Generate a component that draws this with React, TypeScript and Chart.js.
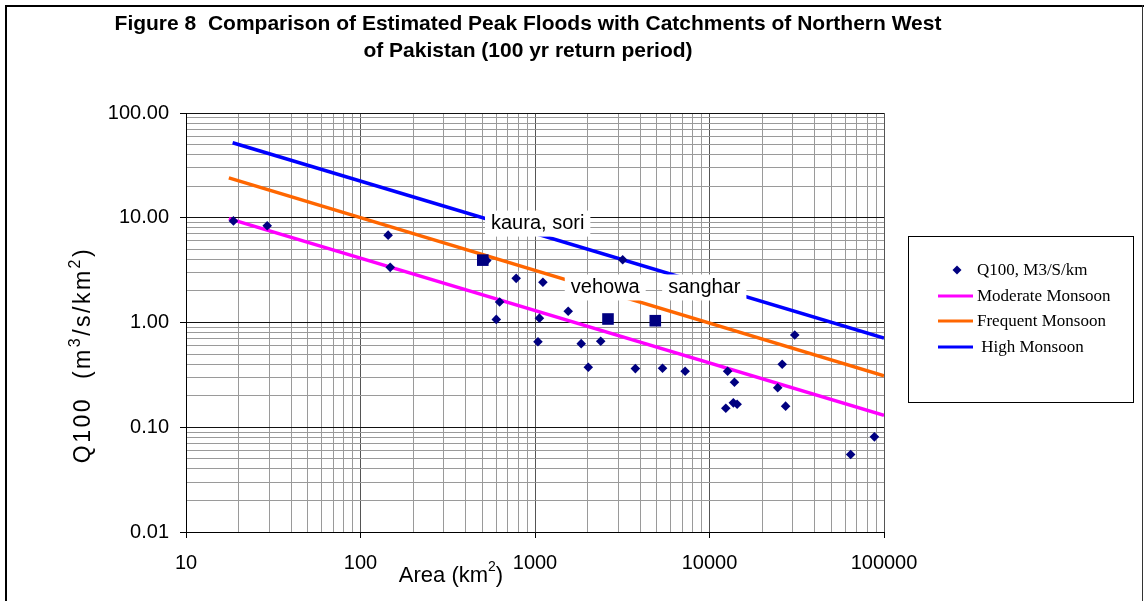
import React, { useEffect, useRef } from 'react';
import { Chart, registerables } from 'chart.js';

Chart.register(...registerables);

const TITLE_LINES = [
  'Figure 8  Comparison of Estimated Peak Floods with Catchments of Northern West',
  'of Pakistan (100 yr return period)',
];

// observed catchments: area (km2) and Q100 (m3/s/km2)
const AREA = [18.7, 29.2, 144, 148, 529, 780, 627, 600, 3180, 1110, 1550, 1060, 1040, 1840, 2380, 2020, 3760, 5380, 7250, 12700, 13900, 12400, 13700, 14400, 24600, 26100, 30800, 27300, 64400, 88100];
const Q100 = [9.33, 8.38, 6.82, 3.36, 3.9, 2.64, 1.57, 1.07, 3.97, 2.42, 1.28, 1.1, 0.656, 0.628, 0.662, 0.374, 0.363, 0.366, 0.343, 0.343, 0.269, 0.152, 0.171, 0.166, 0.238, 0.4, 0.76, 0.159, 0.055, 0.081];

// highlighted (named) catchments
const NAMED_AREA = [502, 2620, 4890];
const NAMED_Q = [3.94, 1.08, 1.04];
const NAMED_LABELS = ['kaura, sori', 'vehowa', 'sanghar'];
const LABEL_AREA = [1036, 2526, 9333];
const LABEL_Q = [8.79, 2.16, 2.16];

// envelope lines
const LINE_AREA = [17.6, 100000];
const MODERATE = [9.8, 0.13];
const FREQUENT = [24, 0.31];
const HIGH_AREA = [18.5, 100000];
const HIGH = [52, 0.71];

// axes
const X_MAJOR = [10, 100, 1000, 10000, 100000];
const X_LABELS = ['10', '100', '1000', '10000', '100000'];
const Y_MAJOR = [0.01, 0.1, 1, 10, 100];
const Y_LABELS = ['0.01', '0.10', '1.00', '10.00', '100.00'];
const MINOR_STEPS = [2, 3, 4, 5, 6, 7, 8, 9];

const SANS = '"Liberation Sans", Arial, sans-serif';
const SERIF = '"Liberation Serif", "Times New Roman", serif';
const NAVY = '#000080';

function buildTicks(majors: number[]) {
  const out: { value: number }[] = [];
  majors.forEach((m, i) => {
    out.push({ value: m });
    if (i < majors.length - 1) MINOR_STEPS.forEach((s) => out.push({ value: m * s }));
  });
  return out;
}

function majorIndex(v: number, majors: number[]) {
  return majors.findIndex((m) => Math.abs(v / m - 1) < 1e-9);
}

type Seg = [string, boolean];

function drawRich(ctx: CanvasRenderingContext2D, segs: Seg[], cx: number, cy: number, size: number, spacing = 0, supScale = 0.62) {
  const supSize = Math.round(size * supScale);
  (ctx as any).letterSpacing = `${spacing}px`;
  let total = 0;
  const widths = segs.map(([t, sup]) => {
    ctx.font = `${sup ? supSize : size}px ${SANS}`;
    const w = ctx.measureText(t).width;
    total += w;
    return w;
  });
  let x = cx - total / 2;
  ctx.textAlign = 'left';
  ctx.textBaseline = 'middle';
  segs.forEach(([t, sup], i) => {
    ctx.font = `${sup ? supSize : size}px ${SANS}`;
    ctx.fillText(t, x, sup ? cy - size * 0.38 : cy);
    x += widths[i];
  });
  (ctx as any).letterSpacing = '0px';
}

const decorPlugin = {
  id: 'decor',
  afterDatasetsDraw(chart: any) {
    const ctx: CanvasRenderingContext2D = chart.ctx;
    const xs = chart.scales.x;
    const ys = chart.scales.y;
    ctx.save();
    ctx.font = `20px ${SANS}`;
    ctx.textAlign = 'center';
    ctx.textBaseline = 'middle';
    NAMED_LABELS.forEach((t, i) => {
      const px = xs.getPixelForValue(LABEL_AREA[i]);
      const py = ys.getPixelForValue(LABEL_Q[i]);
      const w = ctx.measureText(t).width + 12;
      ctx.fillStyle = '#fff';
      ctx.fillRect(px - w / 2, py - 13, w, 26);
      ctx.fillStyle = '#000';
      ctx.fillText(t, px, py);
    });
    ctx.restore();
  },
  afterDraw(chart: any) {
    const ctx: CanvasRenderingContext2D = chart.ctx;
    ctx.save();
    // outer frame
    ctx.fillStyle = '#000';
    ctx.fillRect(5, 5, 2, 600);
    ctx.fillRect(5, 5, 1139, 2);
    ctx.fillStyle = '#333';
    ctx.fillRect(1142, 5, 1, 600);

    // title
    ctx.fillStyle = '#000';
    ctx.font = `bold 21px ${SANS}`;
    ctx.textAlign = 'center';
    ctx.textBaseline = 'middle';
    ctx.fillText(TITLE_LINES[0], 528, 24);
    ctx.fillText(TITLE_LINES[1], 528, 51);

    // axis titles
    drawRich(ctx, [['Area (km', false], ['2', true], [')', false]], 451, 576, 22);
    ctx.save();
    ctx.translate(84, 355);
    ctx.rotate(-Math.PI / 2);
    drawRich(ctx, [['Q100  (m', false], ['3', true], ['/s/km', false], ['2', true], [')', false]], 0, 0, 23, 2.5, 0.7);
    ctx.restore();

    // legend
    const lx = 908.5, ly = 236.5, lw = 225, lh = 166;
    ctx.fillStyle = '#fff';
    ctx.fillRect(lx, ly, lw, lh);
    ctx.strokeStyle = '#000';
    ctx.lineWidth = 1;
    ctx.strokeRect(lx, ly, lw, lh);
    const rows = [270, 296, 321, 347];
    let r = 0;
    chart.data.datasets.forEach((ds: any) => {
      if (ds.hideInLegend) return;
      const y = rows[r++];
      if (ds.showLine) {
        ctx.strokeStyle = ds.borderColor;
        ctx.lineWidth = 3;
        ctx.beginPath();
        ctx.moveTo(938, y);
        ctx.lineTo(973, y);
        ctx.stroke();
      } else {
        ctx.fillStyle = ds.backgroundColor;
        ctx.beginPath();
        ctx.moveTo(957, y - 4.5);
        ctx.lineTo(961.5, y);
        ctx.lineTo(957, y + 4.5);
        ctx.lineTo(952.5, y);
        ctx.closePath();
        ctx.fill();
      }
      ctx.fillStyle = '#000';
      ctx.font = `17px ${SERIF}`;
      ctx.textAlign = 'left';
      ctx.textBaseline = 'middle';
      ctx.fillText(ds.label, 977, y + 1);
    });
    ctx.restore();
  },
};

const toPts = (xs: number[], ys: number[]) => xs.map((x, i) => ({ x, y: ys[i] }));

export default function App() {
  const ref = useRef<HTMLCanvasElement | null>(null);

  useEffect(() => {
    document.body.style.margin = '0';
    document.body.style.overflow = 'hidden';
    const canvas = ref.current!;
    const gridColor = (majors: number[], majorColor: string) => (c: any) =>
      c.tick && majorIndex(c.tick.value, majors) >= 0 ? majorColor : '#9a9a9a';
    const tickColor = (majors: number[]) => (c: any) =>
      c.tick && majorIndex(c.tick.value, majors) >= 0 ? '#000' : 'rgba(0,0,0,0)';

    const chart = new Chart(canvas, {
      type: 'scatter',
      data: {
        datasets: [
          {
            label: 'Q100, M3/S/km',
            data: toPts(AREA, Q100),
            pointStyle: 'rectRot',
            radius: 4.8,
            backgroundColor: NAVY,
            borderColor: NAVY,
            borderWidth: 0,
            order: 0,
          },
          {
            label: 'named',
            hideInLegend: true,
            data: toPts(NAMED_AREA, NAMED_Q),
            pointStyle: 'rect',
            radius: 8.2,
            backgroundColor: NAVY,
            borderColor: NAVY,
            borderWidth: 0,
            order: 0,
          },
          {
            label: 'Moderate Monsoon',
            data: toPts(LINE_AREA, MODERATE),
            showLine: true,
            borderColor: '#ff00ff',
            backgroundColor: '#ff00ff',
            borderWidth: 3.5,
            pointRadius: 0,
            order: 1,
          },
          {
            label: 'Frequent Monsoon',
            data: toPts(LINE_AREA, FREQUENT),
            showLine: true,
            borderColor: '#ff6600',
            backgroundColor: '#ff6600',
            borderWidth: 3.5,
            pointRadius: 0,
            order: 1,
          },
          {
            label: ' High Monsoon',
            data: toPts(HIGH_AREA, HIGH),
            showLine: true,
            borderColor: '#0000ff',
            backgroundColor: '#0000ff',
            borderWidth: 3.5,
            pointRadius: 0,
            order: 1,
          },
        ] as any,
      },
      options: {
        responsive: false,
        animation: false,
        events: [],
        layout: { padding: { left: 0, top: 113, right: 260, bottom: 0 } },
        plugins: { legend: { display: false }, tooltip: { enabled: false }, title: { display: false } },
        scales: {
          x: {
            type: 'logarithmic',
            min: 10,
            max: 100000,
            afterBuildTicks: (s: any) => { s.ticks = buildTicks(X_MAJOR); },
            afterFit: (s: any) => { s.height = 69; },
            ticks: {
              autoSkip: false,
              maxRotation: 0,
              color: '#000',
              padding: 13,
              font: { family: SANS, size: 20 },
              callback: (v: any) => {
                const i = majorIndex(Number(v), X_MAJOR);
                return i >= 0 ? X_LABELS[i] : '';
              },
            },
            grid: { color: gridColor(X_MAJOR, '#555'), tickColor: tickColor(X_MAJOR), tickLength: 6, lineWidth: 1 },
            border: { color: '#000', width: 1 },
          },
          y: {
            type: 'logarithmic',
            min: 0.01,
            max: 100,
            afterBuildTicks: (s: any) => { s.ticks = buildTicks(Y_MAJOR); },
            afterFit: (s: any) => { s.width = 186; },
            ticks: {
              autoSkip: false,
              color: '#000',
              padding: 11,
              font: { family: SANS, size: 20 },
              callback: (v: any) => {
                const i = majorIndex(Number(v), Y_MAJOR);
                return i >= 0 ? Y_LABELS[i] : '';
              },
            },
            grid: { color: gridColor(Y_MAJOR, '#111'), tickColor: tickColor(Y_MAJOR), tickLength: 6, lineWidth: 1 },
            border: { color: '#000', width: 1 },
          },
        },
      } as any,
      plugins: [decorPlugin],
    });
    return () => chart.destroy();
  }, []);

  return (
    <div style={{ width: 1144, height: 601, background: '#fff' }}>
      <canvas ref={ref} width={1144} height={601} style={{ display: 'block' }} />
    </div>
  );
}
